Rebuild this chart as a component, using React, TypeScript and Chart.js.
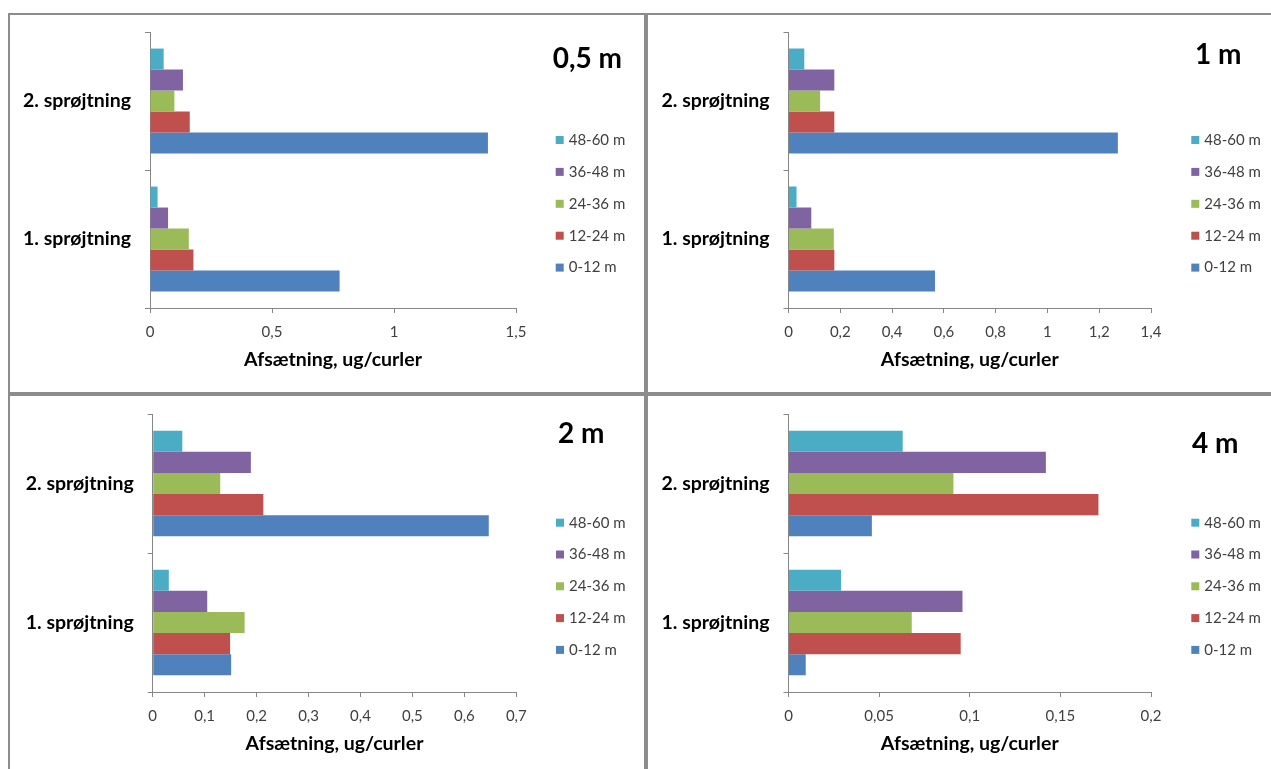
import React, { useEffect, useRef } from 'react';
import { Chart, registerables } from 'chart.js';

Chart.register(...registerables);
Chart.defaults.font.family = "Lato, 'Open Sans', sans-serif";

const categories = ['1. sprøjtning', '2. sprøjtning'];
const seriesLabels = ['48-60 m', '36-48 m', '24-36 m', '12-24 m', '0-12 m'];
const seriesColors = ['#4BACC6', '#8064A2', '#9BBB59', '#C0504D', '#4F81BD'];
const axisTitle = 'Afsætning, ug/curler';

// Deposition per distance band; each row follows seriesLabels,
// each pair is [1. sprøjtning, 2. sprøjtning]
const deposit05m = [
  [0.031, 0.056],
  [0.074, 0.135],
  [0.159, 0.1],
  [0.178, 0.163],
  [0.777, 1.385],
];
const deposit1m = [
  [0.031, 0.061],
  [0.088, 0.177],
  [0.175, 0.122],
  [0.177, 0.177],
  [0.566, 1.272],
];
const deposit2m = [
  [0.031, 0.057],
  [0.105, 0.189],
  [0.177, 0.13],
  [0.149, 0.213],
  [0.151, 0.647],
];
const deposit4m = [
  [0.029, 0.063],
  [0.096, 0.142],
  [0.068, 0.091],
  [0.095, 0.171],
  [0.0095, 0.046],
];

const ticks05m = [0, 0.5, 1, 1.5];
const ticks1m = [0, 0.2, 0.4, 0.6, 0.8, 1, 1.2, 1.4];
const ticks2m = [0, 0.1, 0.2, 0.3, 0.4, 0.5, 0.6, 0.7];
const ticks4m = [0, 0.05, 0.1, 0.15, 0.2];

const AXIS_COLOR = '#868686';
const BORDER_COLOR = '#8c8c8c';
const LABEL_SIZE = 19.5;

const fmt = (v: number) => String(parseFloat(Number(v).toFixed(4))).replace('.', ',');

type Rect = { left: number; right: number; top: number; bottom: number };
type PanelProps = {
  title: string;
  values: number[][];
  ticks: number[];
  frame: { left: number; top: number; width: number; height: number };
  canvasW: number;
  canvasH: number;
  plot: Rect;
  axisTitleY: number;
  titlePos: { x: number; y: number };
  legend: { x: number; y: number; step: number };
};

function Panel(p: PanelProps) {
  const ref = useRef<HTMLCanvasElement | null>(null);

  useEffect(() => {
    if (!ref.current) return;
    const titleLH = LABEL_SIZE * 1.2;
    const axisH = p.axisTitleY + titleLH / 2 - p.plot.bottom;

    // Panel caption and the series key, painted on the chart canvas
    const decor = {
      id: 'panelDecor',
      afterDraw(chart: any) {
        const ctx = chart.ctx as CanvasRenderingContext2D;
        ctx.save();
        ctx.font = "bold 28px Lato, 'Open Sans', sans-serif";
        ctx.fillStyle = '#000';
        ctx.textBaseline = 'alphabetic';
        ctx.textAlign = 'left';
        ctx.fillText(p.title, p.titlePos.x, p.titlePos.y);
        ctx.font = "15px Lato, 'Open Sans', sans-serif";
        ctx.textBaseline = 'middle';
        chart.data.datasets.forEach((ds: any, i: number) => {
          const y = p.legend.y + i * p.legend.step;
          ctx.fillStyle = ds.backgroundColor;
          ctx.fillRect(p.legend.x, y - 4, 8, 8);
          ctx.fillStyle = '#404040';
          ctx.fillText(ds.label, p.legend.x + 13, y);
        });
        ctx.restore();
      },
    };

    const chart = new Chart(ref.current, {
      type: 'bar',
      data: {
        labels: categories,
        datasets: seriesLabels.map((label, i) => ({
          label,
          data: p.values[i],
          backgroundColor: seriesColors[i],
          borderWidth: 0,
          categoryPercentage: 0.76,
          barPercentage: 1,
        })),
      },
      options: {
        indexAxis: 'y',
        responsive: false,
        animation: false,
        devicePixelRatio: 1,
        layout: {
          padding: {
            left: 0,
            top: p.plot.top,
            right: p.canvasW - p.plot.right,
            bottom: p.canvasH - p.plot.bottom - axisH,
          },
        },
        plugins: {
          legend: { display: false },
          tooltip: { enabled: false },
        },
        scales: {
          x: {
            type: 'linear',
            min: p.ticks[0],
            max: p.ticks[p.ticks.length - 1],
            afterBuildTicks: (s: any) => {
              s.ticks = p.ticks.map((value) => ({ value }));
            },
            afterFit: (s: any) => {
              s.height = axisH;
            },
            grid: { drawOnChartArea: false, tickLength: 5, color: AXIS_COLOR },
            border: { color: AXIS_COLOR },
            ticks: {
              padding: 10,
              color: '#404040',
              font: { size: 15 },
              autoSkip: false,
              maxRotation: 0,
              callback: (v: any) => fmt(v),
            },
            title: {
              display: true,
              text: axisTitle,
              color: '#000',
              font: { size: LABEL_SIZE, weight: 'bold' },
              padding: 0,
            },
          },
          y: {
            reverse: true,
            afterFit: (s: any) => {
              s.width = p.plot.left;
              s.paddingTop = 0;
              s.paddingBottom = 0;
            },
            grid: { drawOnChartArea: false, tickLength: 5, color: AXIS_COLOR },
            border: { color: AXIS_COLOR },
            ticks: { padding: 14, color: '#000', font: { size: LABEL_SIZE, weight: 'bold' } },
          },
        },
      },
      plugins: [decor],
    } as any);

    return () => chart.destroy();
  }, []);

  return (
    <div
      style={{
        position: 'absolute',
        left: p.frame.left,
        top: p.frame.top,
        width: p.frame.width,
        height: p.frame.height,
        border: `2px solid ${BORDER_COLOR}`,
        boxSizing: 'border-box',
        background: '#fff',
      }}
    >
      <canvas ref={ref} width={p.canvasW} height={p.canvasH} style={{ display: 'block' }} />
    </div>
  );
}

export default function App() {
  return (
    <div style={{ position: 'fixed', inset: 0, overflow: 'hidden', background: '#fff' }}>
      <Panel
        title="0,5 m"
        values={deposit05m}
        ticks={ticks05m}
        frame={{ left: 8, top: 13, width: 638, height: 381 }}
        canvasW={634}
        canvasH={377}
        plot={{ left: 140, right: 506, top: 17, bottom: 293 }}
        axisTitleY={345}
        titlePos={{ x: 542.7, y: 52.5 }}
        legend={{ x: 545.7, y: 125, step: 31.9 }}
      />
      <Panel
        title="1 m"
        values={deposit1m}
        ticks={ticks1m}
        frame={{ left: 646, top: 13, width: 700, height: 381 }}
        canvasW={623}
        canvasH={377}
        plot={{ left: 140.5, right: 503, top: 17, bottom: 293 }}
        axisTitleY={345}
        titlePos={{ x: 547, y: 49 }}
        legend={{ x: 543.3, y: 125, step: 31.9 }}
      />
      <Panel
        title="2 m"
        values={deposit2m}
        ticks={ticks2m}
        frame={{ left: 8, top: 394, width: 638, height: 400 }}
        canvasW={634}
        canvasH={373}
        plot={{ left: 142.7, right: 506.3, top: 18, bottom: 296 }}
        axisTitleY={347.3}
        titlePos={{ x: 548, y: 47.3 }}
        legend={{ x: 546, y: 126.7, step: 31.8 }}
      />
      <Panel
        title="4 m"
        values={deposit4m}
        ticks={ticks4m}
        frame={{ left: 646, top: 394, width: 700, height: 400 }}
        canvasW={623}
        canvasH={373}
        plot={{ left: 140.5, right: 503, top: 18, bottom: 296 }}
        axisTitleY={347.3}
        titlePos={{ x: 544, y: 57.3 }}
        legend={{ x: 543.3, y: 126.7, step: 31.8 }}
      />
    </div>
  );
}
